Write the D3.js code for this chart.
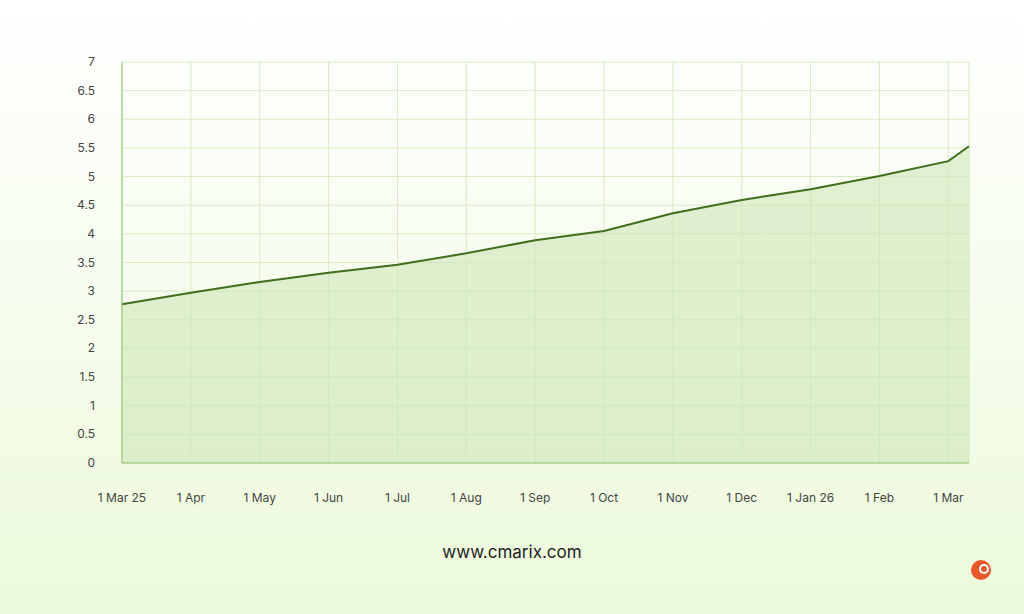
<!DOCTYPE html>
<html><head><meta charset="utf-8">
<script src="https://cdn.jsdelivr.net/npm/d3@7"></script>
<style>
body{margin:0;}
svg{display:block;font-family:"Inter","Noto Sans",sans-serif;}
</style></head>
<body>
<svg id="chart" width="1024" height="614"></svg>
<script>
// data
var tickLabels = ["1 Mar 25","1 Apr","1 May","1 Jun","1 Jul","1 Aug","1 Sep","1 Oct","1 Nov","1 Dec","1 Jan 26","1 Feb","1 Mar"];
var pointIdx = [0,1,2,3,4,5,6,7,8,9,10,11,12,12.3];
var values   = [2.77,2.97,3.16,3.32,3.46,3.66,3.89,4.05,4.36,4.59,4.78,5.01,5.27,5.53];
var yTicks = [0,0.5,1,1.5,2,2.5,3,3.5,4,4.5,5,5.5,6,6.5,7];

var svg = d3.select("#chart");
var defs = svg.append("defs");
var bg = defs.append("linearGradient").attr("id","bg").attr("x1",0).attr("y1",0).attr("x2",0).attr("y2",1);
bg.append("stop").attr("offset","0%").attr("stop-color","#ffffff");
bg.append("stop").attr("offset","100%").attr("stop-color","#ecfadb");
svg.append("rect").attr("width",1024).attr("height",614).attr("fill","url(#bg)");

var x = d3.scaleLinear().domain([0,12.3]).range([122,969]);
var y = d3.scaleLinear().domain([0,7]).range([463,62]);

var g = svg.append("g");
// grid
g.selectAll(".hg").data(yTicks).enter().append("line")
  .attr("x1",122).attr("x2",969).attr("y1",d=>y(d)).attr("y2",d=>y(d))
  .attr("stroke","#d6ecc4").attr("stroke-width",1);
g.selectAll(".vg").data(d3.range(0,13).concat([12.3])).enter().append("line")
  .attr("y1",62).attr("y2",463).attr("x1",d=>x(d)).attr("x2",d=>x(d))
  .attr("stroke","#d6ecc4").attr("stroke-width",1);

var pts = pointIdx.map((d,i)=>[d,values[i]]);
g.append("path").datum(pts)
  .attr("d",d3.area().x(d=>x(d[0])).y0(y(0)).y1(d=>y(d[1])))
  .attr("fill","#cfe6b8").attr("fill-opacity",0.6);
g.append("path").datum(pts)
  .attr("d",d3.line().x(d=>x(d[0])).y(d=>y(d[1])))
  .attr("fill","none").attr("stroke","#3f6e1c").attr("stroke-width",2);

// axes lines
g.append("line").attr("x1",122).attr("x2",122).attr("y1",62).attr("y2",463).attr("stroke","#8cc26a");
g.append("line").attr("x1",122).attr("x2",969).attr("y1",463).attr("y2",463).attr("stroke","#8cc26a");

g.selectAll(".yl").data(yTicks).enter().append("text")
  .attr("x",95).attr("y",d=>y(d)+4).attr("text-anchor","end")
  .attr("font-size",12).attr("fill","#444").text(d=>d);
g.selectAll(".xl").data(tickLabels).enter().append("text")
  .attr("x",(d,i)=>x(i)).attr("y",502).attr("text-anchor","middle")
  .attr("font-size",12).attr("fill","#444").text(d=>d);

svg.append("text").attr("x",512).attr("y",558).attr("text-anchor","middle")
  .attr("font-size",17).attr("fill","#222").text("www.cmarix.com");

// logo
var lg = svg.append("g").attr("transform","translate(981,570)");
lg.append("circle").attr("r",10).attr("fill","#e8572a");
lg.append("circle").attr("cx",3).attr("cy",-1).attr("r",5).attr("fill","#fff");
lg.append("circle").attr("cx",3).attr("cy",-1).attr("r",3).attr("fill","#e8572a");
</script>
</body></html>
